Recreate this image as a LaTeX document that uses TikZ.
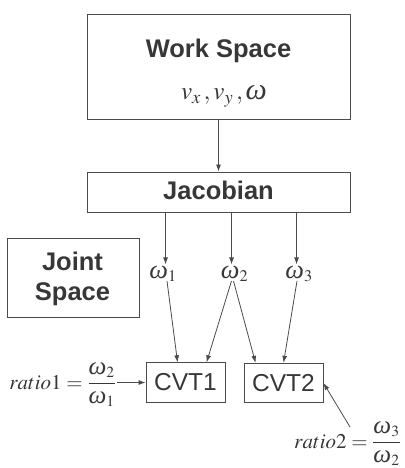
\documentclass[tikz,border=0pt]{standalone}
\usepackage{mathptmx}
\usepackage[no-math]{fontspec}
\setsansfont{Liberation Sans}
\newfontfamily\tnr{Liberation Serif}
\newcommand{\om}{\mbox{\scalebox{1.2}{\tnr\itshape ω}}}
\usetikzlibrary{arrows.meta,calc}
\definecolor{ink}{RGB}{55,55,55}
\definecolor{edge}{RGB}{75,75,75}
\begin{document}
\begin{tikzpicture}[x=1pt,y=-1pt,
  box/.style={draw=edge,line width=0.9pt,inner sep=0pt},
  title/.style={font=\sffamily\bfseries\fontsize{25.5}{30}\selectfont,text=ink,inner sep=0pt},
  cvtbox/.style={box,minimum width=79pt,minimum height=39.5pt,font=\sffamily\fontsize{24.5}{28}\selectfont,text=ink},
  mth/.style={text=ink,inner sep=1pt,font=\fontsize{22}{26}\selectfont},
  arr/.style={draw=edge,line width=0.8pt,-{Latex[length=7pt,width=5pt]}}]
\useasboundingbox (0,0) rectangle (404,468);
% Work Space
\node[box,minimum width=263pt,minimum height=105pt] (ws) at (218.5,66.5) {};
\node[title,anchor=base] (wst) at (218.5,58) {Work Space};
\node[mth,anchor=base,font=\fontsize{25}{28}\selectfont] (wsv) at (224,100) {$v_x\,,v_y\,,\om$};
% Jacobian
\node[box,minimum width=263pt,minimum height=40pt] (jac) at (218.5,192) {};
\node[title,anchor=base] (jact) at (218.5,199) {Jacobian};
\draw[arr] (ws.south) -- (jac.north);
% Joint Space
\node[box,minimum width=132pt,minimum height=79pt] (js) at (73,277.5) {};
\node[title,align=center] (jst) at (72.5,278.5) {Joint\\Space};
% omegas
\node[mth,anchor=base] (w1) at (163,278) {$\om_1$};
\node[mth,anchor=base] (w2) at (234.5,278) {$\om_2$};
\node[mth,anchor=base] (w3) at (299,278) {$\om_3$};
\coordinate (j1) at ($(jac.south west)+(79,0)$);
\coordinate (j2) at ($(jac.south west)+(145,0)$);
\coordinate (j3) at ($(jac.south west)+(210,0)$);
\draw[arr] (j1) -- (j1 |- w1.north);
\draw[arr] (j2) -- (j2 |- w2.north);
\draw[arr] (j3) -- (j3 |- w3.north);
% CVTs
\node[cvtbox] (cvt1) at (185.5,382.5) {CVT1};
\node[cvtbox] (cvt2) at (283.5,383) {CVT2};
\coordinate (s1) at ($(w1.base)+(4,3)$);
\coordinate (s2a) at ($(w2.base)+(-3,3)$);
\coordinate (s2b) at ($(w2.base)+(-1,3)$);
\coordinate (s3) at ($(w3.base)+(-2,3)$);
\draw[arr] (s1) -- ($(cvt1.north west)+(32,0)$);
\draw[arr] (s2a) -- ($(cvt1.north west)+(61,0)$);
\draw[arr] (s2b) -- ($(cvt2.north west)+(12,0)$);
\draw[arr] (s3) -- ($(cvt2.north west)+(40,0)$);
% ratios
\node[mth,anchor=base east,font=\fontsize{21}{25}\selectfont] (r1) at (117,389) {$\displaystyle ratio1=\frac{\om_2}{\om_1}$};
\draw[arr] (r1.east |- cvt1.west) -- (cvt1.west);
\node[mth,anchor=base west,font=\fontsize{21}{25}\selectfont] (r2) at (293,448) {$\displaystyle ratio2=\frac{\om_3}{\om_2}$};
\coordinate (r2s) at (350,427);
\draw[arr] (r2s) -- (cvt2.east);
\end{tikzpicture}
\end{document}
